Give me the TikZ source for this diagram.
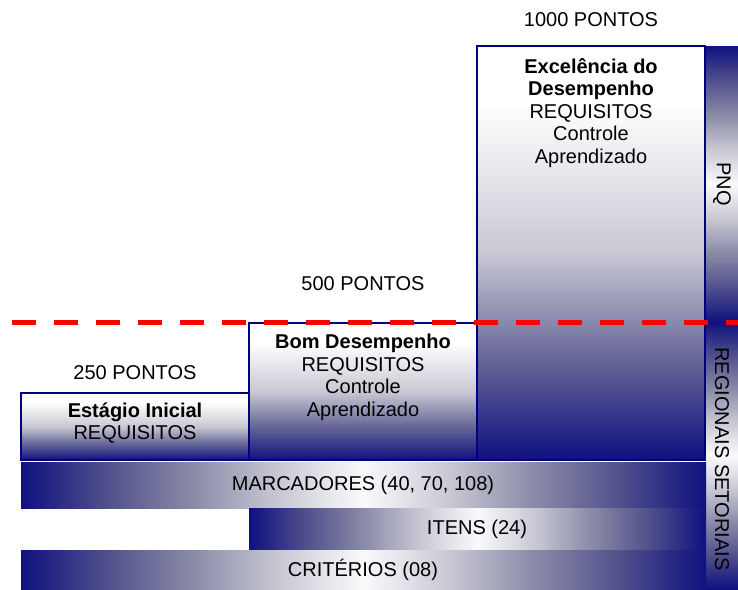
\documentclass[tikz,border=0pt]{standalone}
\usepackage{fontspec}
\setmainfont{Liberation Sans}
\definecolor{navyb}{RGB}{16,16,128}
\definecolor{edgeb}{RGB}{0,0,128}
\definecolor{dashred}{RGB}{255,0,0}
\definecolor{lvA}{RGB}{104,104,152}
\definecolor{lvB}{RGB}{200,200,212}
\definecolor{brA}{RGB}{80,80,140}
\definecolor{brB}{RGB}{138,138,168}
\definecolor{brC}{RGB}{200,200,212}
\definecolor{brD}{RGB}{250,250,252}
\pgfdeclareverticalshading{levelshade}{100bp}{color(0bp)=(navyb); color(25bp)=(navyb);
  color(37.5bp)=(lvA); color(50bp)=(lvB); color(68bp)=(white); color(100bp)=(white)}
\pgfdeclarehorizontalshading{barshade}{100bp}{color(0bp)=(navyb); color(25bp)=(navyb);
  color(31.25bp)=(brA); color(37.5bp)=(brB); color(43.75bp)=(brC); color(50bp)=(brD);
  color(56.25bp)=(brC); color(62.5bp)=(brB); color(68.75bp)=(brA); color(75bp)=(navyb); color(100bp)=(navyb)}
\pgfdeclareverticalshading{colshade}{100bp}{color(0bp)=(navyb); color(25bp)=(navyb);
  color(31.25bp)=(brA); color(37.5bp)=(brB); color(43.75bp)=(brC); color(50bp)=(brD);
  color(56.25bp)=(brC); color(62.5bp)=(brB); color(68.75bp)=(brA); color(75bp)=(navyb); color(100bp)=(navyb)}
\begin{document}
\begin{tikzpicture}[x=1pt,y=-1pt,
  every node/.style={inner sep=0pt, outer sep=0pt},
  levelbox/.style 2 args={draw=edgeb, line width=2.2pt, shading=levelshade,
    anchor=north west, minimum width=#1, minimum height=#2},
  colbox/.style 2 args={shading=colshade,
    anchor=north west, minimum width=#1, minimum height=#2},
  barbox/.style 2 args={shading=barshade,
    anchor=north west, minimum width=#1, minimum height=#2},
  txt/.style={font=\fontsize{20}{22.5}\selectfont, align=center, text=black},
  vtxt/.style={txt, rotate=-90}
]
\useasboundingbox (0,0) rectangle (738,589);

% level boxes
\node[levelbox={228}{67}]  (ini) at (21,393) {};
\node[levelbox={228}{137}] (bom) at (249,323) {};
\node[levelbox={228}{414}] (exc) at (477,46) {};

% right columns
\node[colbox={32}{276}] (pnq) at (706,46) {};
\node[colbox={32}{267}] (reg) at (706,322) {};

% bars
\node[barbox={685}{46}] (marc) at (21,462) {};
\node[barbox={457}{42}] (itens) at (249,508) {};
\node[barbox={685}{39}] (crit) at (21,550) {};

% texts
\node[txt] (p1000) at (591,20) {1000 PONTOS};
\node[txt] (p500) at (363,284) {500 PONTOS};
\node[txt] (p250) at (135,373) {250 PONTOS};

\node[txt] (tini) at (135,423) {\textbf{Estágio Inicial}\\REQUISITOS};
\node[txt] (tbom) at (363,377.5) {\textbf{Bom Desempenho}\\REQUISITOS\\Controle\\Aprendizado};
\node[txt] (texc) at (591,113) {\textbf{Excelência do}\\\textbf{Desempenho}\\REQUISITOS\\Controle\\Aprendizado};

\node[vtxt] (tpnq) at (722,184) {PNQ};
\node[vtxt] (treg) at (722,459) {REGIONAIS SETORIAIS};

\node[txt] (tmarc) at (363,485) {MARCADORES (40, 70, 108)};
\node[txt] (titens) at (477,529) {ITENS (24)};
\node[txt] (tcrit) at (363,570) {CRITÉRIOS (08)};

% red dashed line
\coordinate (dl) at (12,322);
\coordinate (dr) at (750,322);
\draw[dashred, line width=5pt, dash pattern=on 24pt off 18pt] (dl) -- (dr);
\end{tikzpicture}
\end{document}
